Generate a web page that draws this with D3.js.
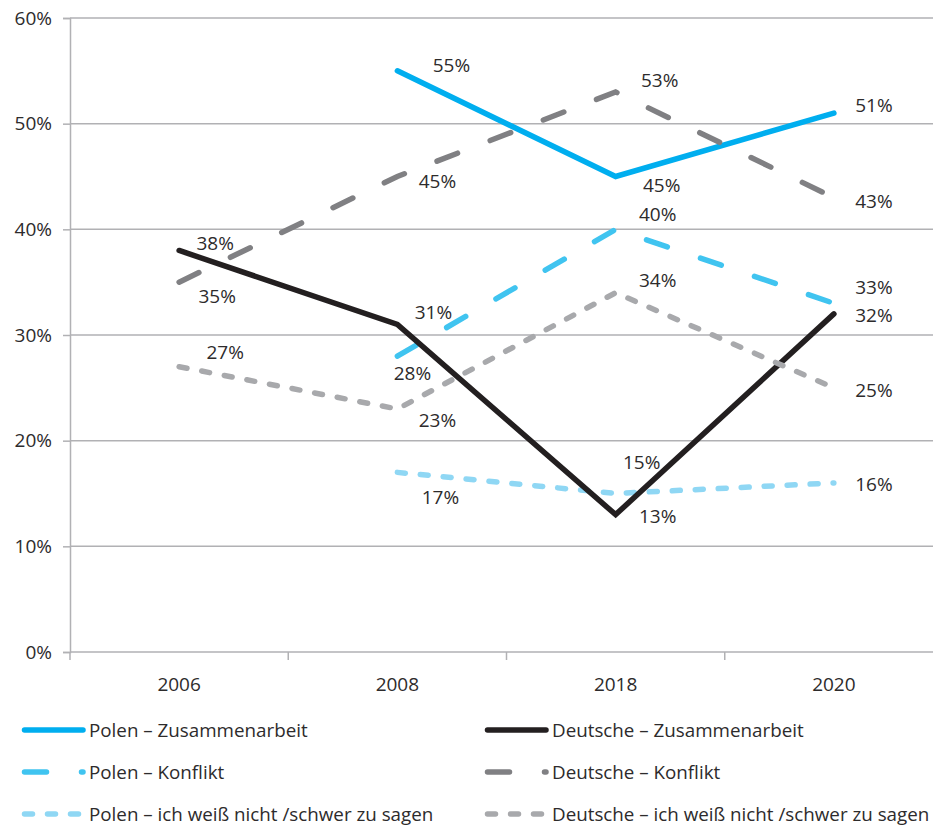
<!DOCTYPE html>
<html>
<head>
<meta charset="utf-8">
<script src="https://cdn.jsdelivr.net/npm/d3@7"></script>
<style>
  html, body { margin: 0; padding: 0; background: #fff; }
  svg { display: block; font-family: "Open Sans", "Noto Sans", sans-serif; }
</style>
</head>
<body>
<svg id="chart" width="933" height="827"></svg>
<script>
// Survey years and percentage values per group
const years = ["2006", "2008", "2018", "2020"];
const yTicks = [0, 10, 20, 30, 40, 50, 60];

const polenZusammenarbeit   = [null, 55, 45, 51];
const polenKonflikt         = [null, 28, 40, 33];
const polenWeissNicht       = [null, 17, 15, 16];
const deutscheZusammenarbeit = [38, 31, 13, 32];
const deutscheKonflikt       = [35, 45, 53, 43];
const deutscheWeissNicht     = [27, 23, 34, 25];

const seriesNames = [
  "Polen – Zusammenarbeit",
  "Polen – Konflikt",
  "Polen – ich weiß nicht /schwer zu sagen",
  "Deutsche – Zusammenarbeit",
  "Deutsche – Konflikt",
  "Deutsche – ich weiß nicht /schwer zu sagen"
];
const seriesValues = [
  polenZusammenarbeit, polenKonflikt, polenWeissNicht,
  deutscheZusammenarbeit, deutscheKonflikt, deutscheWeissNicht
];

// Line styles
const seriesColors = ["#00aeef", "#40c4f0", "#8fd7f4", "#231f20", "#808083", "#a8a9ac"];
const solid = null, longDash = "22,35", shortDash = "8,15";
const seriesDash = [solid, longDash, shortDash, solid, longDash, shortDash];

// Value label placement relative to each point (centre of text)
const labelOffsets = [
  [null, [54, -6], [46, 8], [40, -8]],
  [null, [15, 17], [42, -15], [40, -16]],
  [null, [43, 25], [26, -32], [40, 1]],
  [[36, -7], [36, -12], [42, 1], [40, 1]],
  [[38, 14], [40, 4], [44, -12], [40, 3]],
  [[46, -15], [40, 11], [42, -13], [40, 2]]
];

const svg = d3.select("#chart");
const margin = { left: 70, right: -10, top: 18, bottom: 175 };
const W = 933, H = 827;
const fontSize = "19px";

const x = d3.scaleBand().domain(years).range([margin.left, W - margin.right]);
const y = d3.scaleLinear().domain([0, 60]).range([H - margin.bottom, margin.top]);

const axisColor = "#b1b1b4";
const textColor = "#2d2b2c";

// Horizontal gridlines
svg.append("g")
  .selectAll("line")
  .data(yTicks.filter(d => d > 0))
  .join("line")
  .attr("x1", margin.left).attr("x2", W - margin.right)
  .attr("y1", d => y(d)).attr("y2", d => y(d))
  .attr("stroke", axisColor).attr("stroke-width", 1.5);

// Y axis
const yAxis = svg.append("g")
  .attr("transform", `translate(${margin.left},0)`)
  .call(d3.axisLeft(y).tickValues(yTicks).tickFormat(d => d + "%").tickSize(7).tickPadding(11));
yAxis.select(".domain").attr("stroke", axisColor).attr("stroke-width", 1.5);
yAxis.selectAll(".tick line").attr("stroke", axisColor).attr("stroke-width", 1.5);
yAxis.selectAll(".tick text")
  .attr("fill", textColor).style("font-size", fontSize).style("font-family", "Open Sans, sans-serif");

// X axis with ticks at category boundaries
const xAxisG = svg.append("g").attr("transform", `translate(0,${y(0)})`);
xAxisG.append("line")
  .attr("x1", margin.left).attr("x2", W - margin.right)
  .attr("stroke", axisColor).attr("stroke-width", 1.5);
const boundaries = years.map(d => x(d)).concat([x(years[years.length - 1]) + x.bandwidth()]);
xAxisG.selectAll("line.tk")
  .data(boundaries)
  .join("line").attr("class", "tk")
  .attr("x1", d => d).attr("x2", d => d)
  .attr("y1", 0).attr("y2", 8)
  .attr("stroke", axisColor).attr("stroke-width", 1.5);
xAxisG.selectAll("text")
  .data(years)
  .join("text")
  .attr("x", d => x(d) + x.bandwidth() / 2)
  .attr("y", 39)
  .attr("text-anchor", "middle")
  .attr("fill", textColor)
  .style("font-size", fontSize)
  .text(d => d);

// Lines
const line = d3.line()
  .defined(d => d.v !== null)
  .x(d => x(d.year) + x.bandwidth() / 2)
  .y(d => y(d.v));

const lineWidth = 5.5;
seriesValues.forEach((vals, i) => {
  const pts = vals.map((v, j) => ({ year: years[j], v }));
  svg.append("path")
    .datum(pts)
    .attr("d", line)
    .attr("fill", "none")
    .attr("stroke", seriesColors[i])
    .attr("stroke-width", lineWidth)
    .attr("stroke-linecap", "round")
    .attr("stroke-linejoin", "miter")
    .attr("stroke-dasharray", seriesDash[i]);
});

// Value labels
seriesValues.forEach((vals, i) => {
  vals.forEach((v, j) => {
    if (v === null) return;
    const off = labelOffsets[i][j];
    svg.append("text")
      .attr("x", x(years[j]) + x.bandwidth() / 2 + off[0])
      .attr("y", y(v) + off[1])
      .attr("text-anchor", "middle")
      .attr("dominant-baseline", "central")
      .attr("fill", textColor)
      .style("font-size", fontSize)
      .text(v + "%");
  });
});

// Legend: two columns, Polen left, Deutsche right
const legendCols = [22, 485];
const legendRows = [730, 772, 814];
seriesNames.forEach((name, i) => {
  const col = Math.floor(i / 3), row = i % 3;
  const g = svg.append("g").attr("transform", `translate(${legendCols[col]},${legendRows[row]})`);
  g.append("line")
    .attr("x1", 2.5).attr("x2", 61)
    .attr("stroke", seriesColors[i])
    .attr("stroke-width", lineWidth)
    .attr("stroke-linecap", "round")
    .attr("stroke-dasharray", seriesDash[i]);
  g.append("text")
    .attr("x", 67)
    .attr("dominant-baseline", "central")
    .attr("fill", textColor)
    .style("font-size", "18.8px")
    .text(name);
});
</script>
</body>
</html>
